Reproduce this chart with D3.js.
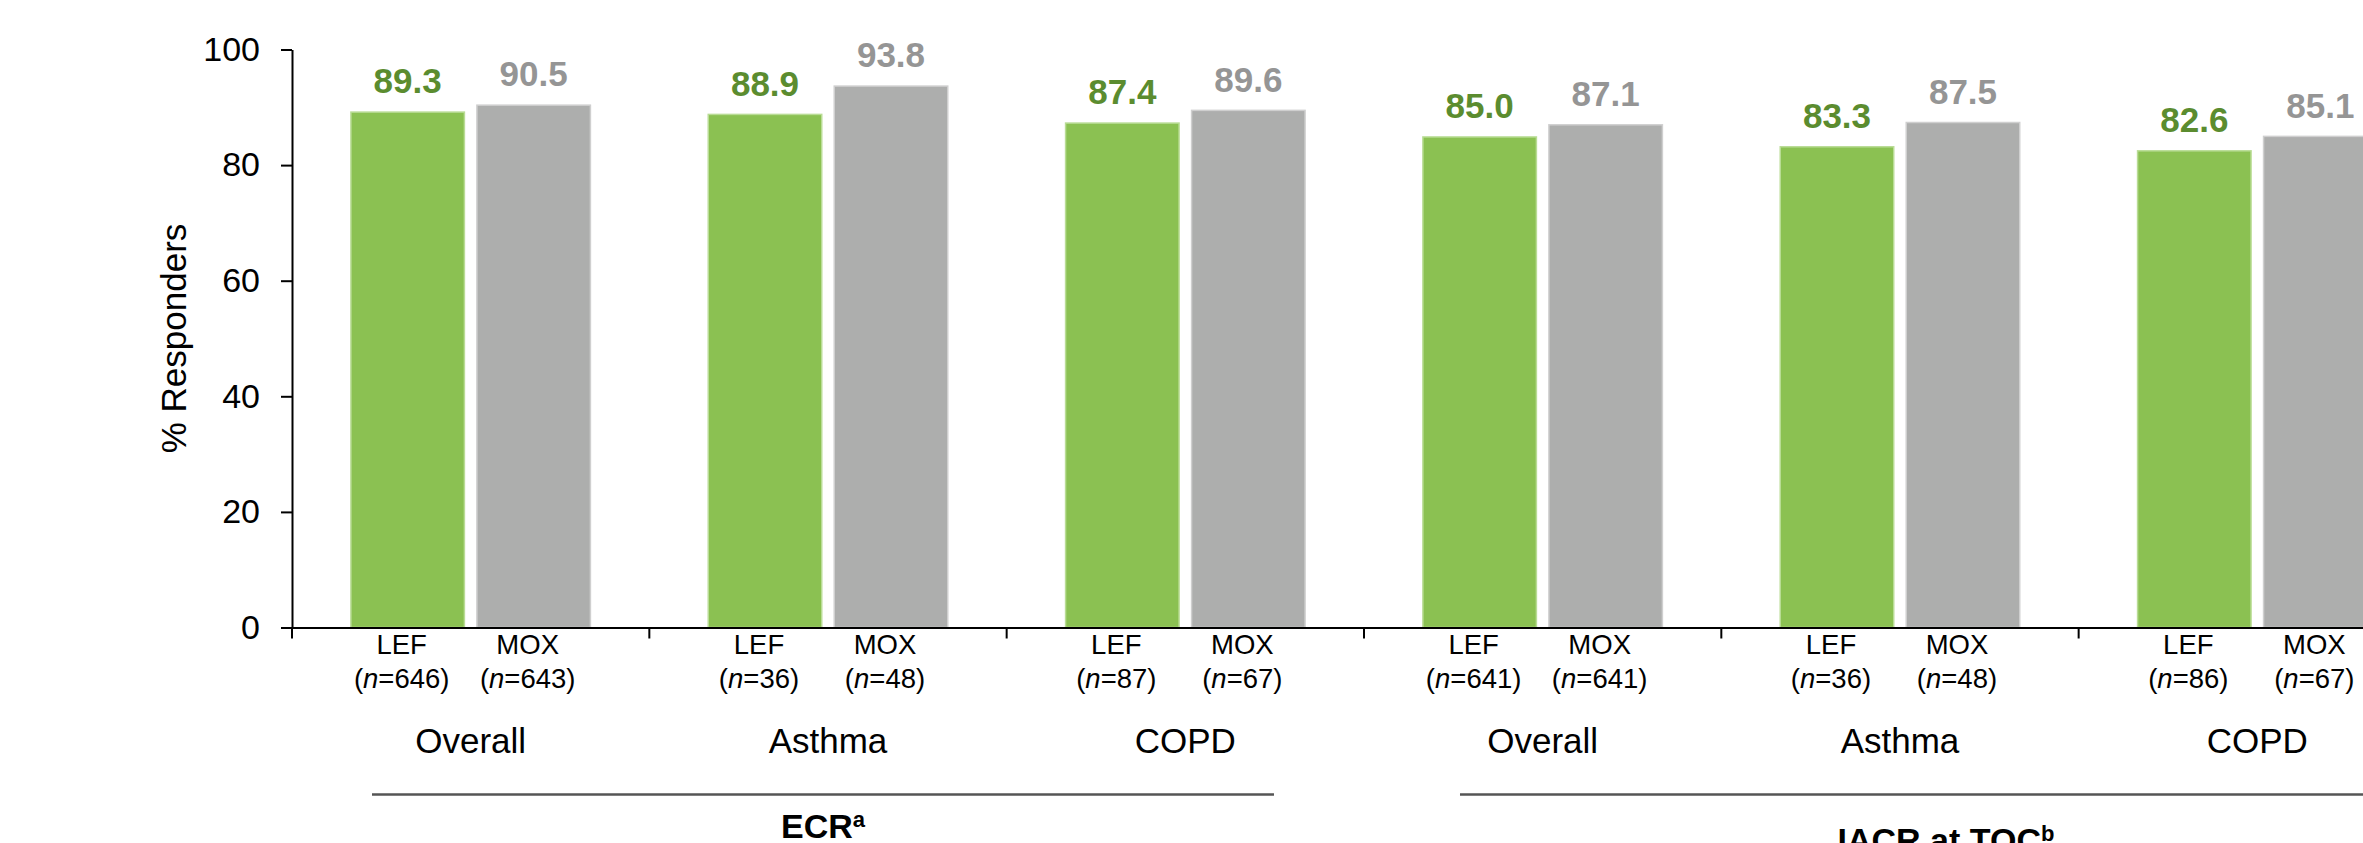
<!DOCTYPE html>
<html>
<head>
<meta charset="utf-8">
<script src="https://cdn.jsdelivr.net/npm/d3@7"></script>
<style>
  html, body { margin: 0; padding: 0; background: #ffffff; }
  svg { display: block; font-family: Arial, "Liberation Sans", sans-serif; }
</style>
</head>
<body>
<svg id="chart" width="2363" height="843"></svg>
<script>
// Response rates by subgroup and endpoint
const groups = ["ECR-Overall", "ECR-Asthma", "ECR-COPD", "IACR-Overall", "IACR-Asthma", "IACR-COPD"];
const groupLabels = ["Overall", "Asthma", "COPD", "Overall", "Asthma", "COPD"];
const arms = ["LEF", "MOX"];
const lefValues = [89.3, 88.9, 87.4, 85.0, 83.3, 82.6];
const moxValues = [90.5, 93.8, 89.6, 87.1, 87.5, 85.1];
const lefN = [646, 36, 87, 641, 36, 86];
const moxN = [643, 48, 67, 641, 48, 67];
const yTicks = [0, 20, 40, 60, 80, 100];
const endpoints = [
  { name: "ECR", sup: "a", first: 0, last: 2 },
  { name: "IACR at TOC", sup: "b", first: 3, last: 5 }
];

const rows = groups.map((g, i) => ({
  key: g, label: groupLabels[i],
  bars: [
    { arm: "LEF", value: lefValues[i], n: lefN[i] },
    { arm: "MOX", value: moxValues[i], n: moxN[i] }
  ]
}));

const armFill = { LEF: "#8bc152", MOX: "#adaead" };
const armEdge = { LEF: "#b9dc95", MOX: "#cfcfcf" };
const armText = { LEF: "#5b8c2f", MOX: "#959595" };

const svg = d3.select("#chart");

const x0 = 292, y0 = 627.5, yTop = 49.5;
const groupStep = 357.33;

const x = d3.scaleBand()
  .domain(groups)
  .range([x0, x0 + groupStep * groups.length])
  .paddingInner(0).paddingOuter(0);
const bw = x.bandwidth();

const xArm = d3.scaleBand()
  .domain(arms)
  .range([bw / 2 - 120.5, bw / 2 + 120.5])
  .paddingInner(11 / 126).paddingOuter(0);

const y = d3.scaleLinear().domain([0, 100]).range([y0, yTop]);

// bars
const gGroups = svg.append("g").selectAll("g.grp")
  .data(rows).join("g")
  .attr("class", "grp")
  .attr("transform", d => `translate(${x(d.key)},0)`);

gGroups.selectAll("rect")
  .data(d => d.bars).join("rect")
  .attr("x", d => xArm(d.arm) + 0.75)
  .attr("width", xArm.bandwidth() - 1.5)
  .attr("y", d => y(d.value) + 0.75)
  .attr("height", d => y(0) - y(d.value) - 0.75)
  .attr("fill", d => armFill[d.arm])
  .attr("stroke", d => armEdge[d.arm])
  .attr("stroke-width", 1.5);

// value labels
gGroups.selectAll("text.val")
  .data(d => d.bars).join("text")
  .attr("class", "val")
  .attr("x", d => xArm(d.arm) + xArm.bandwidth() / 2)
  .attr("y", d => y(d.value) - 18)
  .attr("text-anchor", "middle")
  .attr("font-size", 35)
  .attr("font-weight", "bold")
  .attr("fill", d => armText[d.arm])
  .text(d => d.value.toFixed(1));

// arm labels with sample sizes
const armLbl = gGroups.selectAll("g.arm")
  .data(d => d.bars).join("g")
  .attr("class", "arm")
  .attr("transform", d => `translate(${xArm(d.arm) + xArm.bandwidth() / 2 - 6},0)`);

armLbl.append("text")
  .attr("y", 654)
  .attr("text-anchor", "middle")
  .attr("font-size", 27.5)
  .attr("fill", "#000")
  .text(d => d.arm);

const nText = armLbl.append("text")
  .attr("y", 687.5)
  .attr("text-anchor", "middle")
  .attr("font-size", 27.5)
  .attr("fill", "#000");
nText.append("tspan").text("(");
nText.append("tspan").attr("font-style", "italic").text("n");
nText.append("tspan").text(d => `=${d.n})`);

// subgroup labels
gGroups.append("text")
  .attr("x", bw / 2)
  .attr("y", 752.5)
  .attr("text-anchor", "middle")
  .attr("font-size", 35)
  .attr("fill", "#000")
  .text(d => d.label);

// y axis
const yAxis = svg.append("g")
  .attr("transform", `translate(${x0},0)`)
  .call(d3.axisLeft(y).tickValues(yTicks).tickSize(11).tickSizeOuter(0).tickPadding(21));
yAxis.selectAll("text").attr("font-size", 34).attr("fill", "#000")
  .attr("font-family", "Arial, 'Liberation Sans', sans-serif");
yAxis.selectAll("line, path").attr("stroke", "#000").attr("stroke-width", 2);

// x axis baseline and group boundary ticks
const xAxis = svg.append("g")
  .attr("transform", `translate(0,${y0})`)
  .call(d3.axisBottom(x).tickValues([]).tickSizeOuter(0));
xAxis.select("path").attr("stroke", "#000").attr("stroke-width", 2);
xAxis.selectAll("line.bound")
  .data(groups).join("line")
  .attr("class", "bound")
  .attr("x1", d => x(d)).attr("x2", d => x(d))
  .attr("y1", 0).attr("y2", 11)
  .attr("stroke", "#000").attr("stroke-width", 2);

// y axis title
svg.append("text")
  .attr("transform", `translate(186,${(y(0) + y(100)) / 2}) rotate(-90)`)
  .attr("text-anchor", "middle")
  .attr("font-size", 35)
  .attr("fill", "#000")
  .text("% Responders");

// endpoint brackets
const bracketInset = [[80, 90], [96, 4]];
const brackets = svg.append("g").selectAll("g")
  .data(endpoints).join("g");

brackets.append("line")
  .attr("x1", (d, i) => x(groups[d.first]) + bracketInset[i][0])
  .attr("x2", (d, i) => x(groups[d.last]) + bw - bracketInset[i][1])
  .attr("y1", 794.5).attr("y2", 794.5)
  .attr("stroke", "#555555").attr("stroke-width", 2.5);

const bText = brackets.append("text")
  .attr("x", (d, i) => (x(groups[d.first]) + bracketInset[i][0] + x(groups[d.last]) + bw - bracketInset[i][1]) / 2)
  .attr("y", (d, i) => i === 0 ? 838 : 851.5)
  .attr("text-anchor", "middle")
  .attr("font-size", 34)
  .attr("font-weight", "bold")
  .attr("fill", "#000");
bText.append("tspan").text(d => d.name);
bText.append("tspan").attr("font-size", 22).attr("dy", -11).text(d => d.sup);
</script>
</body>
</html>
